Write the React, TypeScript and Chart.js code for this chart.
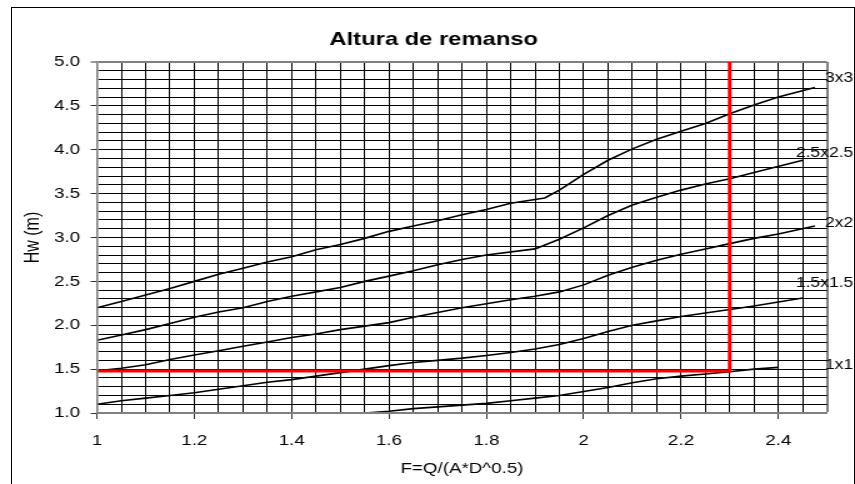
import { useEffect, useRef } from "react";
import { Chart, registerables } from "chart.js";

Chart.register(...registerables);

const TITLE = "Altura de remanso";
const X_TITLE = "F=Q/(A*D^0.5)";
const Y_TITLE = "Hw (m)";

const seriesNames = ["3x3", "2.5x2.5", "2x2", "1.5x1.5", "1x1"];
const seriesLabelY = [4.82, 3.96, 3.165, 2.48, 1.55];

const x3x3 = [1.0, 1.05, 1.1, 1.15, 1.2, 1.25, 1.3, 1.35, 1.4, 1.45, 1.5, 1.55, 1.6, 1.65, 1.7, 1.75, 1.8, 1.85, 1.92, 1.95, 2.0, 2.05, 2.1, 2.15, 2.2, 2.25, 2.3, 2.35, 2.4, 2.475];
const y3x3 = [2.2, 2.27, 2.345, 2.42, 2.5, 2.58, 2.65, 2.72, 2.78, 2.86, 2.92, 2.99, 3.07, 3.13, 3.19, 3.26, 3.32, 3.39, 3.45, 3.54, 3.72, 3.88, 4.01, 4.12, 4.21, 4.3, 4.41, 4.51, 4.6, 4.71];

const x25x25 = [1.0, 1.05, 1.1, 1.15, 1.2, 1.25, 1.3, 1.35, 1.4, 1.45, 1.5, 1.55, 1.6, 1.65, 1.7, 1.75, 1.8, 1.9, 1.95, 2.0, 2.05, 2.1, 2.15, 2.2, 2.25, 2.3, 2.35, 2.45];
const y25x25 = [1.83, 1.89, 1.95, 2.02, 2.09, 2.15, 2.2, 2.27, 2.33, 2.38, 2.43, 2.5, 2.56, 2.62, 2.69, 2.75, 2.8, 2.87, 2.98, 3.11, 3.25, 3.37, 3.46, 3.54, 3.61, 3.67, 3.74, 3.88];

const x2x2 = [1.0, 1.05, 1.1, 1.15, 1.2, 1.25, 1.3, 1.35, 1.4, 1.45, 1.5, 1.6, 1.65, 1.75, 1.85, 1.9, 1.95, 2.0, 2.05, 2.1, 2.15, 2.2, 2.25, 2.3, 2.35, 2.4, 2.475];
const y2x2 = [1.48, 1.51, 1.55, 1.61, 1.66, 1.71, 1.76, 1.81, 1.86, 1.9, 1.95, 2.03, 2.09, 2.2, 2.29, 2.33, 2.38, 2.46, 2.57, 2.66, 2.74, 2.81, 2.87, 2.93, 2.99, 3.04, 3.13];

const x15x15 = [1.0, 1.05, 1.1, 1.15, 1.2, 1.25, 1.3, 1.35, 1.4, 1.45, 1.5, 1.55, 1.6, 1.65, 1.7, 1.75, 1.8, 1.85, 1.9, 1.95, 2.0, 2.05, 2.1, 2.15, 2.2, 2.25, 2.3, 2.35, 2.45];
const y15x15 = [1.1, 1.14, 1.17, 1.2, 1.23, 1.27, 1.31, 1.35, 1.38, 1.42, 1.46, 1.5, 1.54, 1.575, 1.6, 1.625, 1.655, 1.69, 1.73, 1.78, 1.85, 1.93, 2.0, 2.05, 2.1, 2.14, 2.18, 2.22, 2.31];

const x1x1 = [1.45, 1.55, 1.6, 1.65, 1.7, 1.75, 1.8, 1.85, 1.9, 1.95, 2.0, 2.05, 2.1, 2.15, 2.2, 2.25, 2.3, 2.35, 2.4];
const y1x1 = [0.97, 1.0, 1.02, 1.05, 1.07, 1.09, 1.11, 1.14, 1.17, 1.2, 1.245, 1.29, 1.345, 1.39, 1.42, 1.445, 1.47, 1.5, 1.52];

const guideX = [1.0, 2.3, 2.3];
const guideY = [1.48, 1.48, 5.0];

const X_MIN = 1, X_MAX = 2.5, X_MINOR = 0.05, X_MAJOR = 0.2;
const Y_MIN = 1, Y_MAX = 5, Y_MINOR = 0.1, Y_MAJOR = 0.5;

const FONT = "'Liberation Sans', Arial, Helvetica, sans-serif";

const isMult = (v: number, step: number) => Math.abs(v / step - Math.round(v / step)) < 1e-6;
const near = (a: number, b: number) => Math.abs(a - b) < 1e-6;
const pts = (xs: number[], ys: number[]) => xs.map((x, i) => ({ x, y: ys[i] }));

const curves = [
  { name: seriesNames[0], data: pts(x3x3, y3x3) },
  { name: seriesNames[1], data: pts(x25x25, y25x25) },
  { name: seriesNames[2], data: pts(x2x2, y2x2) },
  { name: seriesNames[3], data: pts(x15x15, y15x15) },
  { name: seriesNames[4], data: pts(x1x1, y1x1) },
];

const curveLabels = {
  id: "curveLabels",
  afterDatasetsDraw(chart: any) {
    const { ctx, chartArea, scales } = chart;
    ctx.save();
    ctx.font = `14px ${FONT}`;
    ctx.fillStyle = "#000";
    ctx.textAlign = "right";
    ctx.textBaseline = "middle";
    seriesNames.forEach((n, i) => {
      ctx.fillText(n, chartArea.right + 21, scales.y.getPixelForValue(seriesLabelY[i]));
    });
    ctx.restore();
  },
};

export default function App() {
  const ref = useRef<HTMLCanvasElement | null>(null);

  useEffect(() => {
    if (!ref.current) return;
    const chart = new Chart(ref.current, {
      type: "line",
      data: {
        datasets: [
          {
            label: "guide",
            data: pts(guideX, guideY),
            borderColor: "#ff0000",
            borderWidth: 3,
            pointRadius: 0,
            tension: 0,
            order: 0,
          },
          ...curves.map((c) => ({
            label: c.name,
            data: c.data,
            borderColor: "#000",
            borderWidth: 1.6,
            pointRadius: 0,
            tension: 0,
            order: 1,
          })),
        ],
      },
      options: {
        animation: false,
        responsive: false,
        devicePixelRatio: 1,
        parsing: true,
        layout: { padding: { left: 10, right: 0, top: 12, bottom: 0 } },
        plugins: {
          legend: { display: false },
          tooltip: { enabled: false },
          title: {
            display: true,
            text: TITLE,
            color: "#000",
            font: { family: FONT, size: 19, weight: "bold" },
            padding: { top: 16.3, bottom: 10.9 },
          },
        },
        scales: {
          x: {
            type: "linear",
            position: "bottom",
            min: X_MIN,
            max: X_MAX,
            ticks: {
              stepSize: X_MINOR,
              maxTicksLimit: 1000,
              autoSkip: false,
              maxRotation: 0,
              minRotation: 0,
              padding: 13.3,
              color: "#000",
              font: { family: FONT, size: 15 },
              callback: (v: any) => (isMult(Number(v), X_MAJOR) ? String(Math.round(Number(v) * 10) / 10) : ""),
            },
            grid: {
              color: (c: any) => (c.tick && near(c.tick.value, X_MAX) ? "#808080" : "#000"),
              lineWidth: (c: any) => (c.tick && near(c.tick.value, X_MAX) ? 2 : 1),
              tickColor: (c: any) => (c.tick && isMult(c.tick.value, X_MAJOR) ? "#333" : "rgba(0,0,0,0)"),
              tickLength: 6,
              tickWidth: 1,
            },
            border: { display: true, color: "#808080", width: 2, z: 1 },
            title: {
              display: true,
              text: X_TITLE,
              color: "#000",
              font: { family: FONT, size: 15 },
              padding: { top: 0, bottom: 6 },
            },
            afterFit: (s: any) => {
              s.height = 71;
            },
          },
          y: {
            type: "linear",
            position: "left",
            min: Y_MIN,
            max: Y_MAX,
            ticks: {
              stepSize: Y_MINOR,
              maxTicksLimit: 1000,
              autoSkip: false,
              padding: 8.6,
              color: "#000",
              font: { family: FONT, size: 15 },
              callback: (v: any) => (isMult(Number(v), Y_MAJOR) ? Number(v).toFixed(1) : ""),
            },
            grid: {
              color: (c: any) => (c.tick && near(c.tick.value, Y_MAX) ? "#808080" : "#000"),
              lineWidth: (c: any) => (c.tick && near(c.tick.value, Y_MAX) ? 2 : 1),
              tickColor: (c: any) => (c.tick && isMult(c.tick.value, Y_MAJOR) ? "#333" : "rgba(0,0,0,0)"),
              tickLength: 5,
              tickWidth: 1,
            },
            border: { display: true, color: "#808080", width: 1.6, z: 1 },
            title: {
              display: true,
              text: Y_TITLE,
              color: "#000",
              font: { family: FONT, size: 16 },
              padding: { top: 7.2, bottom: 0 },
            },
            afterFit: (s: any) => {
              s.width = 67.6;
            },
          },
          yR: {
            type: "linear",
            position: "right",
            display: true,
            grid: { display: false, drawTicks: false },
            ticks: { display: false },
            border: { display: false },
            afterFit: (s: any) => {
              s.width = 22.4;
            },
          },
        },
      } as any,
      plugins: [curveLabels],
    });
    return () => chart.destroy();
  }, []);

  return (
    <div style={{ position: "fixed", left: 0, top: 0, width: 855, height: 484, overflow: "hidden", background: "#fff" }}>
      <div
        style={{
          position: "absolute",
          left: 11,
          top: 7,
          width: 842,
          height: 600,
          border: "1px solid #000",
          boxSizing: "content-box",
        }}
      />
      <canvas
        ref={ref}
        width={684}
        height={484}
        style={{ position: "absolute", left: 0, top: 0, width: "855px", height: "484px" }}
      />
    </div>
  );
}
